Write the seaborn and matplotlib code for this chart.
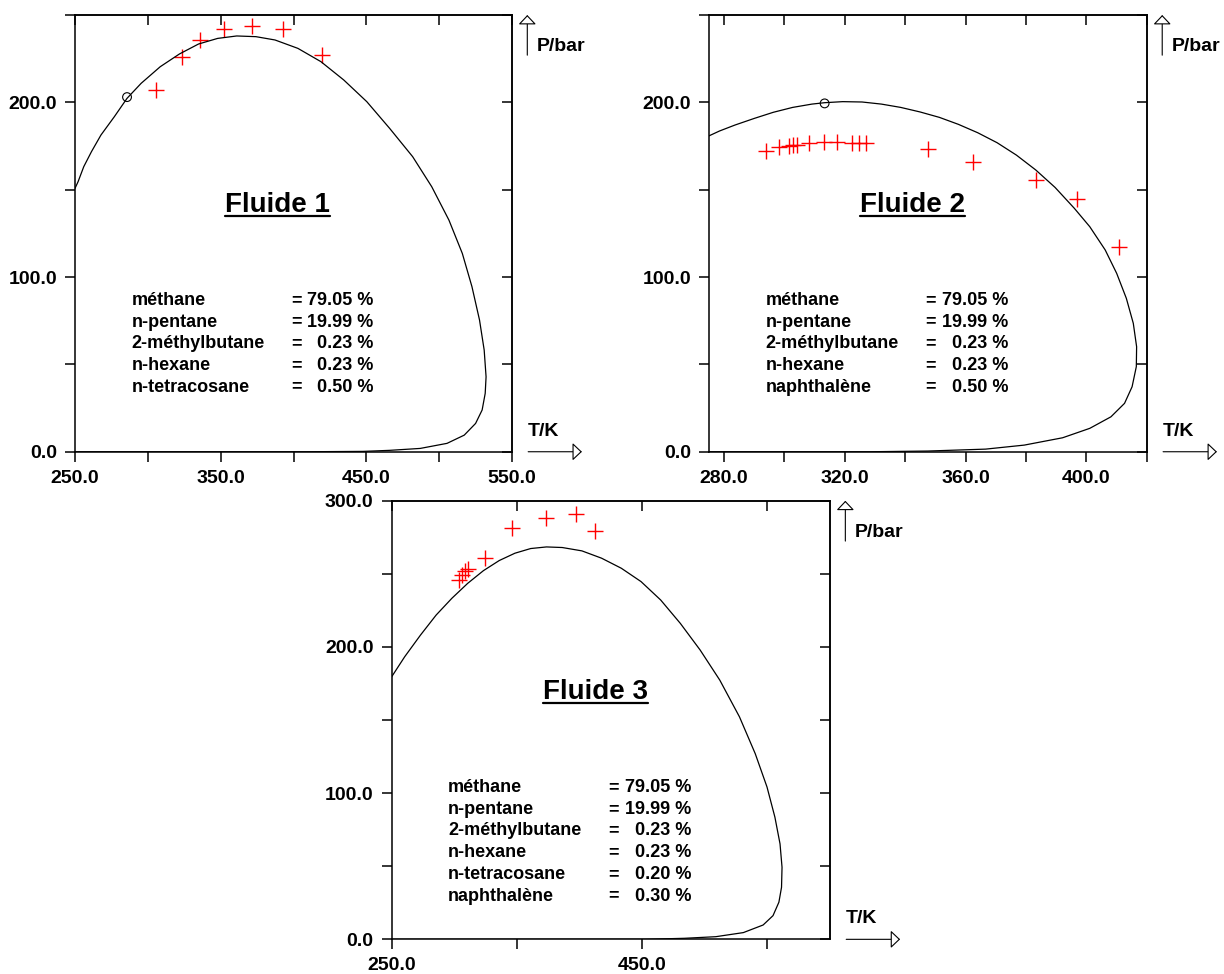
import numpy as np
import matplotlib
matplotlib.use("Agg")
import matplotlib.pyplot as plt
from matplotlib.lines import Line2D
import seaborn as sns

# --- Fluide 1 : enveloppe calculee, points experimentaux, point critique
t_env1 = [250.0, 252.1, 256.0, 261.3, 267.8, 277.0, 285.7, 295.4, 308.5, 321.7, 334.8, 347.9,
          361.0, 374.2, 387.3, 403.0, 418.8, 434.5, 450.3, 466.0, 481.8, 494.9, 506.7, 515.9,
          522.5, 527.7, 530.9, 532.2, 531.6, 529.5, 525.0, 517.2, 505.4, 487.0, 466.0, 447.7,
          408.0, 350.0, 250.0]
p_env1 = [150.8, 154.6, 163.2, 171.8, 181.3, 191.8, 202.3, 210.9, 220.4, 227.7, 233.4, 236.6,
          238.0, 237.6, 235.7, 230.9, 223.3, 212.8, 200.4, 185.1, 168.9, 151.7, 132.6, 113.5,
          94.5, 75.4, 58.2, 42.9, 33.4, 23.9, 16.2, 9.5, 4.8, 1.9, 0.8, 0.2,
          0.0, 0.0, 0.0]
t_exp1 = [305.9, 323.7, 336.0, 352.6, 371.5, 393.0, 419.5]
p_exp1 = [207.0, 225.8, 235.7, 241.8, 243.9, 241.8, 227.0]
t_crit1 = [285.7]
p_crit1 = [203.0]

# --- Fluide 2
t_env2 = [275.0, 278.5, 283.6, 290.0, 296.3, 302.7, 309.1, 313.3, 319.3, 325.7, 332.1, 338.5,
          344.9, 351.3, 357.6, 364.0, 370.4, 376.8, 383.2, 389.6, 396.0, 401.1, 406.2, 410.0,
          413.2, 415.5, 416.6, 416.5, 415.1, 412.6, 408.1, 401.1, 392.1, 379.4, 366.6, 347.4,
          328.3, 300.0, 275.0]
p_env2 = [180.8, 183.6, 187.0, 190.8, 194.3, 197.1, 199.0, 199.8, 200.4, 200.2, 199.0, 197.1,
          194.5, 191.4, 187.4, 182.6, 176.9, 169.8, 161.3, 151.3, 139.3, 128.8, 115.5, 102.1,
          87.8, 73.5, 60.1, 48.7, 37.2, 27.7, 20.0, 13.4, 8.0, 3.8, 1.5, 0.4,
          0.0, 0.0, 0.0]
t_exp2 = [294.0, 298.1, 301.5, 302.7, 304.3, 308.1, 313.0, 317.5, 322.5, 324.7, 327.0,
          347.4, 362.5, 383.2, 396.9, 410.7]
p_exp2 = [172.3, 174.2, 175.2, 175.6, 175.8, 176.9, 177.5, 177.5, 176.9, 176.9, 176.9,
          173.3, 166.0, 155.5, 144.5, 117.4]
t_crit2 = [313.3]
p_crit2 = [199.4]

# --- Fluide 3
t_env3 = [250.0, 260.4, 273.0, 285.5, 298.1, 310.7, 323.3, 335.9, 348.4, 361.0, 373.6, 386.2,
          401.9, 417.6, 433.4, 449.1, 464.8, 480.5, 496.3, 512.0, 527.7, 540.3, 549.7, 556.0,
          560.1, 561.7, 561.3, 559.2, 554.5, 546.6, 530.8, 508.8, 483.7, 452.2, 350.0, 250.0]
p_env3 = [179.6, 193.3, 208.1, 221.8, 233.3, 243.5, 252.2, 259.1, 264.1, 267.3, 268.4, 268.0,
          265.7, 260.7, 253.8, 244.7, 232.1, 216.1, 197.9, 177.3, 152.2, 127.0, 104.2, 83.6,
          65.3, 49.3, 35.6, 25.4, 16.2, 9.8, 4.6, 1.8, 0.7, 0.0, 0.0, 0.0]
t_exp3 = [303.5, 306.0, 308.5, 310.7, 324.8, 346.2, 373.0, 397.5, 412.6]
p_exp3 = [246.1, 249.1, 252.1, 253.0, 261.0, 281.1, 288.0, 290.8, 279.6]

# --- compositions (% molaire)
comp1 = ["méthane", "n-pentane", "2-méthylbutane", "n-hexane", "n-tetracosane"]
frac1 = [79.05, 19.99, 0.23, 0.23, 0.50]
comp2 = ["méthane", "n-pentane", "2-méthylbutane", "n-hexane", "naphthalène"]
frac2 = [79.05, 19.99, 0.23, 0.23, 0.50]
comp3 = ["méthane", "n-pentane", "2-méthylbutane", "n-hexane", "n-tetracosane", "naphthalène"]
frac3 = [79.05, 19.99, 0.23, 0.23, 0.20, 0.30]

# --- axes : limites, graduations et graduations etiquetees
xlim1, ylim1 = (250, 550), (0, 250)
xt1, xl1 = [250, 300, 350, 400, 450, 500, 550], [250, 350, 450, 550]
yt1, yl1 = [0, 50, 100, 150, 200, 250], [0, 100, 200]
xlim2, ylim2 = (275, 420), (0, 250)
xt2, xl2 = [280, 300, 320, 340, 360, 380, 400, 420], [280, 320, 360, 400]
yt2, yl2 = [0, 50, 100, 150, 200, 250], [0, 100, 200]
xlim3, ylim3 = (250, 600), (0, 300)
xt3, xl3 = [250, 350, 450, 550], [250, 450]
yt3, yl3 = [0, 50, 100, 150, 200, 250, 300], [0, 100, 200, 300]

sns.set_style("ticks")
plt.rcParams.update({
    "font.family": ["Liberation Sans", "DejaVu Sans"],
    "font.weight": "bold",
    "axes.linewidth": 1.1,
    "text.color": "black",
    "axes.edgecolor": "black",
    "axes.labelcolor": "black",
    "xtick.color": "black",
    "ytick.color": "black",
})

fig = plt.figure(figsize=(12.24, 9.74), dpi=100)
ax1 = fig.add_axes([0.0613, 0.5362, 0.3570, 0.4484])
ax2 = fig.add_axes([0.5792, 0.5362, 0.3578, 0.4484])
ax3 = fig.add_axes([0.3200, 0.0356, 0.3581, 0.4503])


def fmt(ticks, labelled):
    return [f"{v:.1f}" if v in labelled else "" for v in ticks]


def draw_panel(ax, t_env, p_env, t_exp, p_exp, t_crit, p_crit, title, comp, frac,
               xlim, ylim, xt, xl, yt, yl):
    sns.lineplot(x=t_env, y=p_env, sort=False, estimator=None, color="black",
                 linewidth=0.9, ax=ax)
    sns.scatterplot(x=t_exp, y=p_exp, marker="+", s=120, color="red",
                    linewidth=1.0, ax=ax)
    if t_crit:
        sns.scatterplot(x=t_crit, y=p_crit, marker="o", s=40, facecolor="none",
                        edgecolor="black", linewidth=0.8, ax=ax)
    ax.set_xlim(*xlim)
    ax.set_ylim(*ylim)
    ax.set_xlabel("")
    ax.set_ylabel("")
    ax.set_xticks(xt, fmt(xt, xl))
    ax.set_yticks(yt, fmt(yt, yl))
    ax.tick_params(direction="out", length=7, width=1.1, labelsize=14, pad=6)
    for lab in ax.get_xticklabels() + ax.get_yticklabels():
        lab.set_fontweight("bold")

    # graduations internes en haut et a droite
    top = ax.secondary_xaxis("top")
    top.set_xticks(xt, [""] * len(xt))
    top.tick_params(direction="in", length=7, width=1.1)
    right = ax.secondary_yaxis("right")
    right.set_yticks(yt, [""] * len(yt))
    right.tick_params(direction="in", length=7, width=1.1)

    # fleches d'axes
    arrow = dict(arrowstyle="-|>,head_length=0.58,head_width=0.55", fc="white",
                 ec="black", lw=0.8, shrinkA=0, shrinkB=0, mutation_scale=10)
    ax.annotate("", xy=(1.035, 1.0), xytext=(1.035, 0.908), xycoords="axes fraction",
                arrowprops=arrow, annotation_clip=False)
    ax.annotate("", xy=(1.160, 0.0), xytext=(1.037, 0.0), xycoords="axes fraction",
                arrowprops=arrow, annotation_clip=False)
    ax.text(1.056, 0.927, "P/bar", transform=ax.transAxes, ha="left", va="center",
            fontsize=14, fontweight="bold")
    ax.text(1.037, 0.047, "T/K", transform=ax.transAxes, ha="left", va="center",
            fontsize=14, fontweight="bold")

    ttl = ax.text(0.464, 0.565, title, transform=ax.transAxes, ha="center",
                  va="center", fontsize=20, fontweight="bold")

    for i, (name, val) in enumerate(zip(comp, frac)):
        y = 0.346 - 0.0495 * i
        ax.text(0.129, y, name, transform=ax.transAxes, ha="left", va="center",
                fontsize=13, fontweight="bold")
        ax.text(0.494, y, "=", transform=ax.transAxes, ha="left", va="center",
                fontsize=13, fontweight="bold")
        ax.text(0.683, y, f"{val:.2f} %", transform=ax.transAxes, ha="right",
                va="center", fontsize=13, fontweight="bold")
    return ttl


titles = [
    draw_panel(ax1, t_env1, p_env1, t_exp1, p_exp1, t_crit1, p_crit1, "Fluide 1",
               comp1, frac1, xlim1, ylim1, xt1, xl1, yt1, yl1),
    draw_panel(ax2, t_env2, p_env2, t_exp2, p_exp2, t_crit2, p_crit2, "Fluide 2",
               comp2, frac2, xlim2, ylim2, xt2, xl2, yt2, yl2),
    draw_panel(ax3, t_env3, p_env3, t_exp3, p_exp3, [], [], "Fluide 3",
               comp3, frac3, xlim3, ylim3, xt3, xl3, yt3, yl3),
]

# soulignement des titres
fig.canvas.draw()
inv = fig.transFigure.inverted()
for ttl in titles:
    bb = ttl.get_window_extent()
    (x0, y0), (x1, _) = inv.transform([(bb.x0, bb.y0 + 2), (bb.x1, bb.y1)])
    fig.add_artist(Line2D([x0, x1], [y0, y0], color="black", linewidth=1.6))

fig.savefig("out.png", dpi=100)
